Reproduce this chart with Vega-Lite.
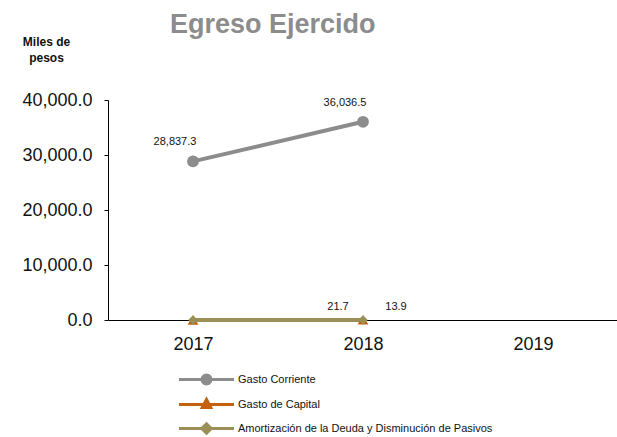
{
  "$schema": "https://vega.github.io/schema/vega-lite/v6.json",
  "width": 510,
  "height": 220,
  "autosize": {"type": "none"},
  "padding": {"left": 108, "top": 100, "right": 0, "bottom": 117},
  "background": "white",
  "title": {
    "text": "Egreso Ejercido",
    "anchor": "start",
    "frame": "group",
    "dx": 62,
    "offset": -25,
    "baseline": "alphabetic",
    "font": "Liberation Sans",
    "fontSize": 27,
    "fontWeight": "bold",
    "color": "#8c8c8c"
  },
  "config": {
    "view": {"stroke": null},
    "legend": {
      "orient": "none",
      "legendX": 92,
      "legendY": 273,
      "symbolSize": 100,
      "symbolStrokeWidth": 3,
      "symbolOpacity": 1,
      "labelOffset": 25,
      "labelFont": "Liberation Sans",
      "labelFontSize": 11,
      "labelColor": "#111",
      "labelLimit": 400,
      "rowPadding": 3,
      "padding": 0,
      "title": null
    }
  },
  "data": {
    "values": [
      {"anio": "2017", "serie": "Gasto Corriente", "valor": 28837.3, "etiqueta": "28,837.3"},
      {"anio": "2018", "serie": "Gasto Corriente", "valor": 36036.5, "etiqueta": "36,036.5"},
      {"anio": "2017", "serie": "Gasto de Capital", "valor": 0, "etiqueta": null},
      {"anio": "2018", "serie": "Gasto de Capital", "valor": 21.7, "etiqueta": "21.7"},
      {"anio": "2017", "serie": "Amortización de la Deuda y Disminución de Pasivos", "valor": 0, "etiqueta": null},
      {"anio": "2018", "serie": "Amortización de la Deuda y Disminución de Pasivos", "valor": 13.9, "etiqueta": "13.9"}
    ]
  },
  "encoding": {
    "x": {
      "field": "anio",
      "type": "ordinal",
      "scale": {"type": "point", "domain": ["2017", "2018", "2019"], "padding": 0.5},
      "axis": {
        "title": null,
        "labelAngle": 0,
        "labelFont": "Liberation Sans",
        "labelFontSize": 18,
        "labelColor": "#111",
        "labelPadding": 15,
        "ticks": false,
        "domainColor": "#000",
        "domainWidth": 1.2,
        "grid": false
      }
    },
    "y": {
      "field": "valor",
      "type": "quantitative",
      "scale": {"domain": [0, 40000], "nice": false},
      "axis": {
        "title": ["Miles de", "pesos"],
        "titleAngle": 0,
        "titleX": -62,
        "titleY": -64,
        "titleAlign": "center",
        "titleBaseline": "top",
        "titleFont": "Liberation Sans",
        "titleFontSize": 12,
        "titleFontWeight": "bold",
        "titleLineHeight": 16,
        "titleColor": "#111",
        "values": [0, 10000, 20000, 30000, 40000],
        "format": ",.1f",
        "labelFont": "Liberation Sans",
        "labelFontSize": 18,
        "labelColor": "#111",
        "labelPadding": 12,
        "tickSize": 4,
        "tickColor": "#000",
        "domainColor": "#000",
        "grid": false
      }
    }
  },
  "layer": [
    {
      "mark": {"type": "line", "strokeWidth": 4},
      "encoding": {
        "color": {
          "field": "serie",
          "type": "nominal",
          "scale": {
            "domain": ["Gasto Corriente", "Gasto de Capital", "Amortización de la Deuda y Disminución de Pasivos"],
            "range": ["#8c8c8c", "#c5600f", "#9a8f57"]
          },
          "legend": null
        },
        "order": {"field": "anio"}
      }
    },
    {
      "mark": {"type": "point", "filled": true, "opacity": 1},
      "encoding": {
        "color": {
          "field": "serie",
          "type": "nominal",
          "scale": {
            "domain": ["Gasto Corriente", "Gasto de Capital", "Amortización de la Deuda y Disminución de Pasivos"],
            "range": ["#8c8c8c", "#c5600f", "#9a8f57"]
          },
          "legend": null
        },
        "shape": {
          "field": "serie",
          "type": "nominal",
          "scale": {
            "domain": ["Gasto Corriente", "Gasto de Capital", "Amortización de la Deuda y Disminución de Pasivos"],
            "range": ["circle", "triangle-up", "diamond"]
          },
          "legend": null
        },
        "size": {
          "field": "serie",
          "type": "nominal",
          "scale": {
            "domain": ["Gasto Corriente", "Gasto de Capital", "Amortización de la Deuda y Disminución de Pasivos"],
            "range": [140, 90, 130]
          },
          "legend": null
        }
      }
    },
    {
      "transform": [{"filter": "datum.serie == 'Gasto Corriente' && isValid(datum.etiqueta)"}],
      "mark": {"type": "text", "dx": -18, "dy": -19, "font": "Liberation Sans", "fontSize": 11, "color": "#111"},
      "encoding": {"text": {"field": "etiqueta", "type": "nominal"}}
    },
    {
      "transform": [{"filter": "datum.serie == 'Gasto de Capital' && isValid(datum.etiqueta)"}],
      "mark": {"type": "text", "dx": -25, "dy": -13, "font": "Liberation Sans", "fontSize": 11, "color": "#111"},
      "encoding": {"text": {"field": "etiqueta", "type": "nominal"}}
    },
    {
      "transform": [{"filter": "datum.serie == 'Amortización de la Deuda y Disminución de Pasivos' && isValid(datum.etiqueta)"}],
      "mark": {"type": "text", "dx": 33, "dy": -13, "font": "Liberation Sans", "fontSize": 11, "color": "#111"},
      "encoding": {"text": {"field": "etiqueta", "type": "nominal"}}
    },
    {
      "transform": [{"filter": "datum.valor < -1"}],
      "mark": {"type": "point", "filled": true, "opacity": 1},
      "encoding": {
        "color": {
          "field": "serie",
          "type": "nominal",
          "scale": {
            "domain": ["Gasto Corriente", "Gasto de Capital", "Amortización de la Deuda y Disminución de Pasivos"],
            "range": ["#8c8c8c", "#c5600f", "#9a8f57"]
          }
        },
        "stroke": {
          "field": "serie",
          "type": "nominal",
          "scale": {
            "domain": ["Gasto Corriente", "Gasto de Capital", "Amortización de la Deuda y Disminución de Pasivos"],
            "range": ["#8c8c8c", "#c5600f", "#9a8f57"]
          }
        },
        "shape": {
          "field": "serie",
          "type": "nominal",
          "scale": {
            "domain": ["Gasto Corriente", "Gasto de Capital", "Amortización de la Deuda y Disminución de Pasivos"],
            "range": [
              "M-5.5,0L5.5,0M0.9,0L0.78,0.45L0.45,0.78L0,0.9L-0.45,0.78L-0.78,0.45L-0.9,0L-0.78,-0.45L-0.45,-0.78L0,-0.9L0.45,-0.78L0.78,-0.45Z",
              "M-5.5,0L5.5,0M0,-1L0.85,0.6L-0.85,0.6Z",
              "M-5.5,0L5.5,0M0,-0.95L0.95,0L0,0.95L-0.95,0Z"
            ]
          }
        }
      }
    }
  ],
  "resolve": {"scale": {"color": "independent", "shape": "independent", "size": "independent", "stroke": "independent"}}
}
